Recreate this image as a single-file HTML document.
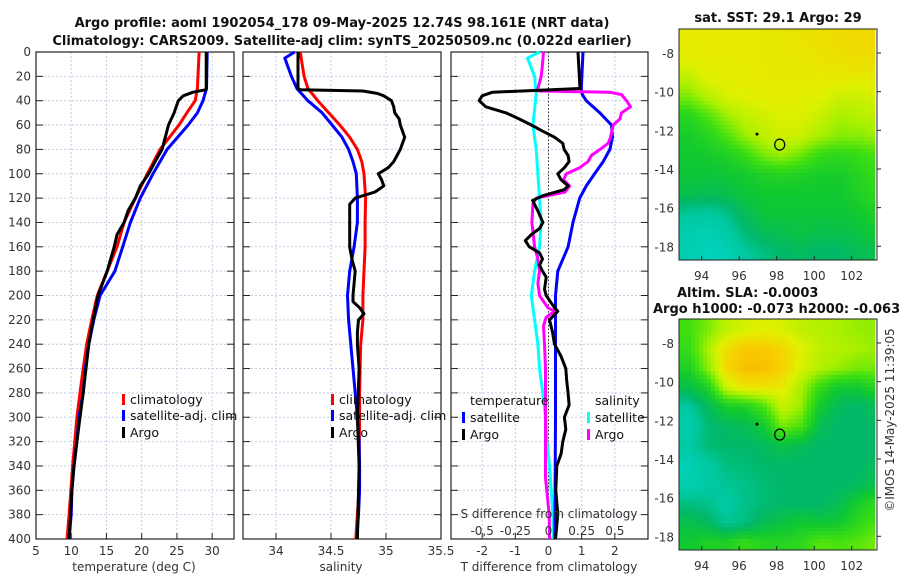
<!DOCTYPE html>
<html><head><meta charset="utf-8">
<style>
html,body{margin:0;padding:0;background:#fff;}
svg{display:block;font-family:"DejaVu Sans","Liberation Sans",sans-serif;}
.tk{font-size:12px;fill:#333;}
.ttl{font-size:13px;font-weight:bold;fill:#111;}
.lg{font-size:12.5px;fill:#111;}
</style></head>
<body>
<svg id="fig" width="900" height="580" viewBox="0 0 900 580">
<g id="plots"></g>
<text class="ttl" x="342" y="27" text-anchor="middle">Argo profile: aoml 1902054_178 09-May-2025 12.74S 98.161E (NRT data)</text>
<text class="ttl" x="342" y="45" text-anchor="middle">Climatology: CARS2009. Satellite-adj clim: synTS_20250509.nc (0.022d earlier)</text>
<text class="ttl" x="778" y="22" text-anchor="middle">sat. SST: 29.1 Argo: 29</text>
<text class="ttl" x="677" y="297">Altim. SLA: -0.0003</text>
<text class="ttl" x="653" y="313">Argo h1000: -0.073 h2000: -0.063</text>
<text class="tk" transform="translate(894,420) rotate(-90)" text-anchor="middle">©IMOS 14-May-2025 11:39:05</text>
</svg>
<script>
// ---- data ----
const depthT = [0,30,40,50,60,80,100,120,140,160,180,200,220,240,260,280,300,320,340,360,380,400];
const climT = [28.15,27.9,27.6,26.4,25.3,22.6,20.8,19.1,17.5,16.5,15.1,13.7,12.9,12.2,11.7,11.25,10.8,10.5,10.2,9.95,9.7,9.4];
const satT = [29.3,29.2,28.7,27.9,26.6,23.6,21.6,19.8,18.4,17.3,16.2,14.1,13.2,12.5,12.0,11.7,11.1,10.8,10.4,10.1,10.0,9.7];
const argoDepthT = [0,31,33,36,40,50,60,80,90,100,110,120,130,140,150,160,180,200,220,240,260,280,300,320,340,360,380,400];
const argoT = [29.15,29.15,27.3,25.9,25.2,24.6,23.8,22.9,21.9,21.0,19.8,19.1,18.1,17.5,16.5,16.1,15.1,13.8,13.1,12.5,12.1,11.7,11.25,10.8,10.4,10.1,9.9,9.7];

const depthS = [0,20,30,40,50,60,70,80,90,100,120,140,160,180,200,220,240,260,280,300,320,340,360,380,400];
const climS = [34.22,34.255,34.29,34.38,34.48,34.58,34.67,34.74,34.78,34.80,34.815,34.81,34.81,34.80,34.79,34.79,34.77,34.765,34.76,34.76,34.757,34.755,34.755,34.74,34.725];
const satDepthS = [0,5,20,30,40,50,60,70,80,90,100,120,140,160,180,200,220,240,260,280,300,320,340,360,380,400];
const satS = [34.17,34.08,34.14,34.19,34.29,34.42,34.51,34.60,34.66,34.70,34.73,34.74,34.74,34.71,34.67,34.65,34.66,34.68,34.70,34.72,34.74,34.755,34.76,34.76,34.75,34.735];
const argoDepthS = [0,30,31,32,34,36,40,45,50,55,60,70,75,80,85,90,95,100,105,110,115,120,125,140,160,170,180,200,205,210,215,220,230,240,260,300,340,400];
const argoS = [34.20,34.20,34.22,34.79,34.92,34.98,35.05,35.07,35.08,35.12,35.13,35.17,35.15,35.13,35.10,35.07,35.02,34.93,34.96,34.98,34.90,34.72,34.67,34.67,34.67,34.69,34.72,34.70,34.70,34.76,34.80,34.75,34.74,34.74,34.755,34.74,34.755,34.74];

const satDTDepth = [0,30,35,40,50,60,70,80,90,100,110,120,140,160,180,200,300,400];
const satDT = [1.04,0.99,1.02,1.14,1.55,1.90,1.93,1.85,1.65,1.39,1.14,0.94,0.74,0.59,0.28,0.21,0.21,0.19];
const argoDTDepth = [0,30,32,33,36,40,45,50,55,60,65,70,75,80,85,90,95,100,105,110,113,118,122,130,140,145,150,155,160,165,170,175,180,185,195,200,210,213,220,230,240,250,260,270,280,290,300,310,320,330,340,360,380,400];
const argoDT = [0.89,0.95,-0.79,-1.69,-2.0,-2.09,-1.89,-1.28,-0.88,-0.52,-0.18,0.18,0.43,0.47,0.59,0.62,0.48,0.28,0.38,0.59,0.48,-0.17,-0.48,-0.33,-0.17,-0.27,-0.52,-0.70,-0.58,-0.27,-0.18,-0.27,-0.18,-0.07,-0.12,-0.07,0.18,0.28,0.03,0.12,0.18,0.38,0.52,0.55,0.59,0.62,0.48,0.52,0.43,0.38,0.25,0.22,0.28,0.21];
const satDSDepth = [0,5,20,35,60,80,100,120,140,160,180,200,220,240,260,280,300,320,340,360,380,400];
const satDS = [-0.068,-0.158,-0.105,-0.093,-0.118,-0.093,-0.080,-0.068,-0.055,-0.068,-0.105,-0.130,-0.105,-0.080,-0.068,-0.043,-0.023,-0.013,0.008,0.020,0.033,0.038];
const argoDSDepth = [0,10,20,30,32,33,35,40,45,50,55,60,70,75,80,85,90,95,100,105,110,115,120,125,140,160,170,180,190,200,210,213,218,225,240,260,350,360,380,400];
const argoDS = [-0.038,-0.045,-0.055,-0.08,-0.075,0.463,0.55,0.588,0.618,0.55,0.538,0.488,0.468,0.45,0.388,0.323,0.298,0.235,0.135,0.113,0.16,0.125,-0.093,-0.118,-0.125,-0.105,-0.08,-0.068,-0.08,-0.068,-0.005,0.045,-0.018,-0.038,-0.03,-0.023,-0.023,-0.013,0.005,0.008];

const depthTicks = [0,20,40,60,80,100,120,140,160,180,200,220,240,260,280,300,320,340,360,380,400];
const tTicks = [5,10,15,20,25,30];
const sTicks = [34,34.5,35,35.5];
const sTickLabels = ["34","34.5","35","35.5"];
const dTTicks = [-2,-1,0,1,2];
const dSTicks = [-0.5,-0.25,0,0.25,0.5];
const dSTickLabels = ["-0,5","-0.25","0","0.25","0.5"];

const mapLon = [93.3,94.3,95.3,96.3,97.3,98.3,99.3,100.3,101.3,102.3,103.3];
const mapLat = [-7.3,-8.3,-9.3,-10.3,-11.3,-12.3,-13.3,-14.3,-15.3,-16.3,-17.3,-18.3];
const sstGrid = [
[0.80,0.80,0.80,0.80,0.80,0.81,0.82,0.83,0.84,0.85,0.85],
[0.79,0.80,0.80,0.80,0.80,0.81,0.81,0.82,0.83,0.84,0.84],
[0.72,0.78,0.79,0.80,0.80,0.80,0.80,0.80,0.80,0.80,0.80],
[0.62,0.70,0.76,0.78,0.79,0.79,0.79,0.78,0.74,0.74,0.76],
[0.48,0.56,0.66,0.72,0.75,0.77,0.77,0.74,0.68,0.70,0.72],
[0.44,0.48,0.56,0.66,0.72,0.75,0.74,0.68,0.64,0.64,0.66],
[0.42,0.43,0.46,0.52,0.62,0.66,0.60,0.52,0.50,0.52,0.56],
[0.40,0.40,0.41,0.43,0.46,0.48,0.46,0.44,0.44,0.48,0.52],
[0.36,0.34,0.36,0.40,0.42,0.42,0.42,0.42,0.42,0.46,0.50],
[0.22,0.20,0.24,0.34,0.40,0.40,0.40,0.40,0.40,0.42,0.46],
[0.14,0.10,0.16,0.28,0.34,0.36,0.38,0.36,0.36,0.38,0.42],
[0.12,0.06,0.10,0.20,0.26,0.30,0.32,0.30,0.30,0.34,0.36]];
const slaGrid = [
[0.55,0.62,0.72,0.76,0.78,0.76,0.72,0.70,0.68,0.66,0.65],
[0.52,0.68,0.84,0.90,0.90,0.86,0.78,0.72,0.70,0.68,0.66],
[0.46,0.64,0.86,0.93,0.93,0.88,0.76,0.70,0.66,0.62,0.62],
[0.36,0.46,0.74,0.82,0.82,0.80,0.68,0.52,0.42,0.42,0.48],
[0.20,0.32,0.44,0.46,0.56,0.74,0.66,0.42,0.32,0.30,0.34],
[0.14,0.28,0.32,0.34,0.42,0.62,0.56,0.34,0.30,0.30,0.30],
[0.18,0.28,0.30,0.30,0.32,0.38,0.34,0.30,0.30,0.30,0.30],
[0.10,0.18,0.26,0.28,0.30,0.30,0.30,0.30,0.30,0.30,0.32],
[0.12,0.18,0.22,0.24,0.28,0.30,0.30,0.30,0.30,0.32,0.36],
[0.26,0.24,0.18,0.24,0.28,0.30,0.30,0.30,0.34,0.44,0.50],
[0.36,0.32,0.22,0.26,0.34,0.38,0.42,0.40,0.42,0.50,0.56],
[0.42,0.46,0.46,0.52,0.48,0.48,0.50,0.58,0.56,0.58,0.62]];
const mapLonTicks = [94,96,98,100,102];
const mapLatTicks = [-8,-10,-12,-14,-16,-18];
const floatLon = [98.161];
const floatLat = [-12.74];
const otherLon = [96.95];
const otherLat = [-12.2];

// ---- drawing ----
const NS = "http://www.w3.org/2000/svg";
const root = document.getElementById('plots');
function mk(tag, attrs, parent){
  const e = document.createElementNS(NS, tag);
  for (const k in attrs) e.setAttribute(k, attrs[k]);
  (parent||root).appendChild(e);
  return e;
}
const Y0 = 52, Y1 = 539;
const yScale = d => Y0 + (d/400)*(Y1-Y0);
function lin(d0,d1,r0,r1){ return v => r0 + (v-d0)/(d1-d0)*(r1-r0); }

function panel(name, x0, x1, ticks, labels, xs, showYLabels){
  const g = mk('g', {});
  
  
  depthTicks.forEach(d => {
    const l = mk('line', {x1:x0, x2:x1, y1:yScale(d), y2:yScale(d), stroke:'#c4cce4', 'stroke-width':1, 'stroke-dasharray':'2,2'}, g);
    
    
    const t1 = mk('line', {x1:x0, x2:x0+7, y1:yScale(d), y2:yScale(d), stroke:'#222', 'stroke-width':1}, g);
    
    
    const t2 = mk('line', {x1:x1-7, x2:x1, y1:yScale(d), y2:yScale(d), stroke:'#222', 'stroke-width':1}, g);
    
    
    if (showYLabels){
      const t = mk('text', {x:x0-5, y:yScale(d)+4, 'text-anchor':'end', class:'tk'}, g);
      t.textContent = d;
      
      
    }
  });
  ticks.forEach((v,i) => {
    const x = xs(v);
    const l = mk('line', {x1:x, x2:x, y1:Y0, y2:Y1, stroke:'#c4cce4', 'stroke-width':1, 'stroke-dasharray':'2,2'}, g);
    
    
    const tk = mk('line', {x1:x, x2:x, y1:Y1-6, y2:Y1, stroke:'#222', 'stroke-width':1}, g);
    
    
    const t = mk('text', {x:x, y:Y1+16, 'text-anchor':'middle', class:'tk'}, g);
    t.textContent = labels[i];
    
    
  });
  const fr = mk('rect', {x:x0, y:Y0, width:x1-x0, height:Y1-Y0, fill:'none', stroke:'#222', 'stroke-width':1.2}, g);
  
  
  return g;
}
function line(g, name, depths, vals, xs, color){
  const pts = depths.map((d,i) => xs(vals[i]).toFixed(1)+','+yScale(d).toFixed(1)).join(' ');
  const p = mk('polyline', {points:pts, fill:'none', stroke:color, 'stroke-width':3, 'stroke-linejoin':'round'}, g);
  
  
}
function label(g, name, x, y, txt, anchor, cls){
  const t = mk('text', {x:x, y:y, 'text-anchor':anchor||'start', class:cls||'tk'}, g);
  t.textContent = txt;
  
  
  return t;
}
function legendEntry(g, x, y, color, txt){
  const r = mk('rect', {x:x, y:y-9, width:3, height:11, fill:color}, g);
  
  
  label(g, 'legend-entry', x+8, y+1, txt, 'start', 'lg');
}

const xT = lin(5, 33.1, 36, 234);
const g1 = panel('temperature-panel', 36, 234, tTicks, tTicks.map(String), xT, true);
line(g1, 'climatology-temperature-line', depthT, climT, xT, '#ff0000');
line(g1, 'satellite-temperature-line', depthT, satT, xT, '#0000ff');
line(g1, 'argo-temperature-line', argoDepthT, argoT, xT, '#000000');
label(g1, 'x-axis-title', 134, 571, 'temperature (deg C)', 'middle');
legendEntry(g1, 122, 403, '#ff0000', 'climatology');
legendEntry(g1, 122, 419, '#0000ff', 'satellite-adj. clim');
legendEntry(g1, 122, 436, '#000000', 'Argo');

const xS = lin(33.70, 35.5, 243, 441);
const g2 = panel('salinity-panel', 243, 441, sTicks, sTickLabels, xS, false);
line(g2, 'climatology-salinity-line', depthS, climS, xS, '#ff0000');
line(g2, 'satellite-salinity-line', satDepthS, satS, xS, '#0000ff');
line(g2, 'argo-salinity-line', argoDepthS, argoS, xS, '#000000');
label(g2, 'x-axis-title', 341, 571, 'salinity', 'middle');
legendEntry(g2, 331, 403, '#ff0000', 'climatology');
legendEntry(g2, 331, 419, '#0000ff', 'satellite-adj. clim');
legendEntry(g2, 331, 436, '#000000', 'Argo');

const xD = lin(-2.94, 3, 451, 648);
const xDS = v => xD(v*4);
const g3 = panel('difference-panel', 451, 648, dTTicks, dTTicks.map(String), xD, false);
const zl = mk('line', {x1:xD(0), x2:xD(0), y1:Y0, y2:Y1, stroke:'#333', 'stroke-width':1, 'stroke-dasharray':'1.5,2'}, g3);


line(g3, 'satellite-salinity-diff-line', satDSDepth, satDS, xDS, '#00ffff');
line(g3, 'satellite-temperature-diff-line', satDTDepth, satDT, xD, '#0000ff');
line(g3, 'argo-salinity-diff-line', argoDSDepth, argoDS, xDS, '#ff00ff');
line(g3, 'argo-temperature-diff-line', argoDTDepth, argoDT, xD, '#000000');
label(g3, 'x-axis-title', 549, 571, 'T difference from climatology', 'middle');
label(g3, 'top-axis-title', 549, 518, 'S difference from climatology', 'middle');
dSTicks.forEach((v,i) => label(g3, 'top-tick-label', xDS(v), 535, dSTickLabels[i], 'middle'));
label(g3, 'legend-heading-temperature', 470, 405, 'temperature', 'start', 'lg');
label(g3, 'legend-heading-salinity', 595, 405, 'salinity', 'start', 'lg');
legendEntry(g3, 462, 421, '#0000ff', 'satellite');
legendEntry(g3, 462, 438, '#000000', 'Argo');
legendEntry(g3, 587, 421, '#00ffff', 'satellite');
legendEntry(g3, 587, 438, '#ff00ff', 'Argo');

const cmapStops = [[0,[0,216,200]],[0.2,[0,200,160]],[0.3,[0,184,104]],[0.42,[16,200,48]],[0.55,[64,224,16]],[0.68,[168,240,0]],[0.78,[224,240,0]],[0.88,[248,208,0]],[1,[248,168,0]]];
function cmap(v){
  v = Math.max(0, Math.min(1, v));
  for (let i=1;i<cmapStops.length;i++){
    if (v <= cmapStops[i][0]){
      const a = cmapStops[i-1], b = cmapStops[i];
      const f = (v-a[0])/(b[0]-a[0]);
      const c = a[1].map((c0,k)=>Math.round(c0+(b[1][k]-c0)*f));
      return 'rgb('+c.join(',')+')';
    }
  }
  return 'rgb(248,168,0)';
}
function sample(grid, lon, lat){
  let fx = (lon - mapLon[0]) / (mapLon[1]-mapLon[0]);
  let fy = (lat - mapLat[0]) / (mapLat[1]-mapLat[0]);
  fx = Math.max(0, Math.min(mapLon.length-1.0001, fx));
  fy = Math.max(0, Math.min(mapLat.length-1.0001, fy));
  const i = Math.floor(fx), j = Math.floor(fy), a = fx-i, b = fy-j;
  return grid[j][i]*(1-a)*(1-b) + grid[j][i+1]*a*(1-b) + grid[j+1][i]*(1-a)*b + grid[j+1][i+1]*a*b;
}
function mapPanel(name, top, bottom, grid){
  const x0 = 679, x1 = 877, xi = 875, y0 = top, y1 = bottom;
  const lonS = v => 701.7 + (v-94)*18.75;
  const lonInv = x => 94 + (x-701.7)/18.75;
  const latS = v => y0 + 24 + (-8 - v)*19.33;
  const latInv = y => -8 - (y - y0 - 24)/19.33;
  const g = mk('g', {});
  
  
  const bg = mk('rect', {x:x0, y:y0, width:x1-x0, height:y1-y0, fill:'#fff'}, g);
  
  
  const step = 4;
  for (let y=y0; y<y1; y+=step){
    for (let x=x0; x<xi; x+=step){
      const v = sample(grid, lonInv(x+step/2), latInv(y+step/2));
      const r = mk('rect', {x:x, y:y, width:Math.min(step,xi-x)+0.3, height:Math.min(step,y1-y)+0.3, fill:cmap(v)}, g);
      
      
    }
  }
  const fr = mk('rect', {x:x0, y:y0, width:x1-x0, height:y1-y0, fill:'none', stroke:'#222', 'stroke-width':1}, g);
  
  
  mapLonTicks.forEach(v => {
    const tk = mk('line', {x1:lonS(v), x2:lonS(v), y1:y1, y2:y1-4, stroke:'#222'}, g);
    
    
    label(g, 'lon-tick-label', lonS(v), y1+20, String(v), 'middle');
  });
  mapLatTicks.forEach(v => {
    const tk = mk('line', {x1:x1, x2:x1+4, y1:latS(v), y2:latS(v), stroke:'#222'}, g);
    
    
    label(g, 'lat-tick-label', 674, latS(v)+5, String(v), 'end');
  });
  const c = mk('ellipse', {cx:lonS(floatLon[0]), cy:latS(floatLat[0]), rx:5, ry:5.5, fill:'none', stroke:'#000', 'stroke-width':1.2}, g);
  
  
  const tri = mk('circle', {cx:lonS(otherLon[0]), cy:latS(otherLat[0]), r:1.5, fill:'#000'}, g);
  
  
}
mapPanel('sst-map', 29, 260, sstGrid);
mapPanel('sla-map', 319, 550, slaGrid);
</script>
</body></html>
